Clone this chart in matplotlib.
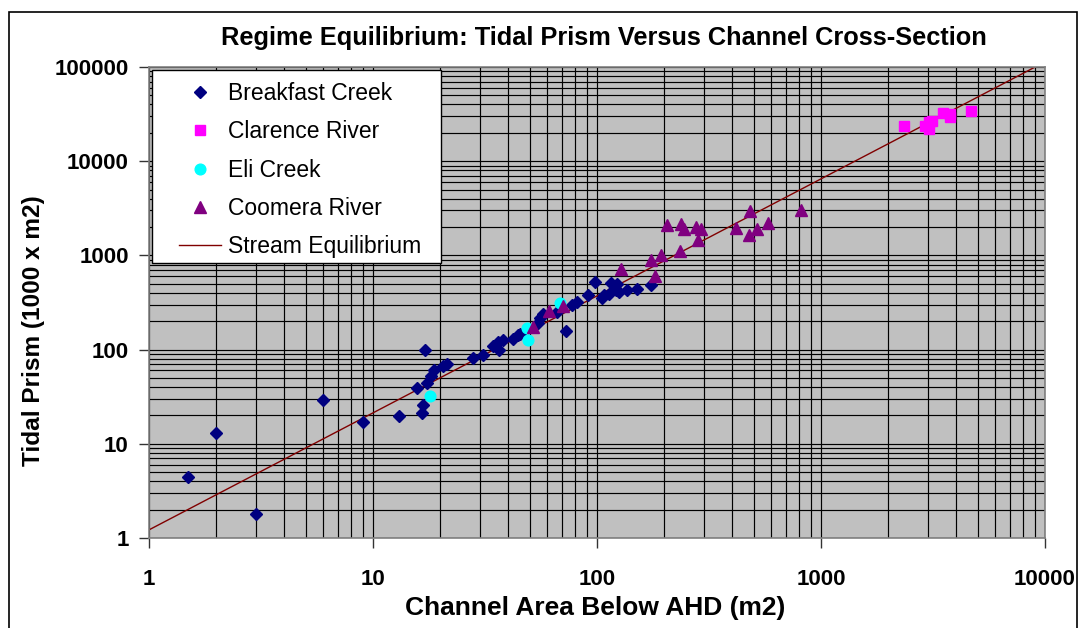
import matplotlib
matplotlib.use('Agg')
import matplotlib.pyplot as plt
from matplotlib.patches import Rectangle
from matplotlib.ticker import LogLocator, FixedLocator, NullFormatter
import numpy as np

plt.rcParams['font.family'] = ['Liberation Sans', 'DejaVu Sans']

#%% Data (channel area m2, tidal prism 1000 x m2)

breakfast_area = [1.5, 2, 3, 6, 9, 13, 16.5, 16.7, 15.8, 17, 17.5, 18.1, 18.7, 20.5, 21.4,
                  28, 31, 34.4, 36.5, 36.2, 38.2, 42.3, 44.5, 45.3, 54.7, 55.7, 57.6, 66,
                  72.6, 77, 81, 91, 98, 105, 108, 113, 115, 121, 123, 125, 136, 151, 175]
breakfast_prism = [4.4, 13, 1.8, 29, 17, 19.5, 21, 26, 39, 100, 44, 52, 61, 67, 71,
                   82, 88, 110, 99, 121, 126, 129, 143, 148, 190, 214, 241, 251,
                   157, 296, 321, 384, 525, 349, 378, 394, 515, 430, 503, 410, 427, 437, 482]

clarence_area = [2340, 2920, 3020, 3020, 3120, 3500, 3750, 3750, 4690]
clarence_prism = [23550, 23900, 22030, 25960, 27000, 32300, 31800, 29300, 34400]

eli_area = [18, 49, 48.5, 68.4]
eli_prism = [32, 126, 171, 314]

coomera_area = [52, 61, 70.4, 128, 175, 181, 194, 206, 234, 238, 244, 276, 281, 291,
                417, 482, 479, 517, 577, 818]
coomera_prism = [175, 256, 292, 710, 887, 600, 1000, 2085, 1120, 2170, 1890, 2000, 1445, 1890,
                 1955, 2940, 1630, 1890, 2190, 3010]

# Stream equilibrium line P = c * A^n
eq_coef = 1.22
eq_exp = 1.242
eq_area = np.array([1.0, 10000.0])

#%%

W, H = 1080, 628
fig = plt.figure(figsize=(W / 100, H / 100), dpi=100)
fig.patch.set_facecolor('white')

# plot area in pixels: x 149..1045, y 67..538
ax = fig.add_axes([149 / W, 1 - 538 / H, 896 / W, 471 / H])
ax.set_facecolor('#C0C0C0')
ax.set_xscale('log')
ax.set_yscale('log')
ax.set_xlim(1, 10000)
ax.set_ylim(1, 100000)

ax.xaxis.set_minor_locator(LogLocator(base=10, subs=np.arange(2, 10), numticks=20))
ax.yaxis.set_minor_locator(LogLocator(base=10, subs=np.arange(2, 10), numticks=20))
ax.xaxis.set_minor_formatter(NullFormatter())
ax.yaxis.set_minor_formatter(NullFormatter())
ax.xaxis.set_major_locator(FixedLocator([1, 10, 100, 1000, 10000]))
ax.yaxis.set_major_locator(FixedLocator([1, 10, 100, 1000, 10000, 100000]))
ax.set_xticklabels(['1', '10', '100', '1000', '10000'])
ax.set_yticklabels(['1', '10', '100', '1000', '10000', '100000'])

ax.grid(which='both', color='black', lw=0.85)
ax.set_axisbelow(True)
ax.tick_params(which='major', direction='out', length=7, width=1, color='#333333')
ax.tick_params(which='minor', length=0)
ax.tick_params(axis='y', labelsize=16, pad=7.5)
ax.tick_params(axis='x', labelsize=16, pad=15)
for lab in ax.get_xticklabels() + ax.get_yticklabels():
    lab.set_fontweight('bold')
for sp in ax.spines.values():
    sp.set_color('#808080')
    sp.set_linewidth(1.2)

ax.plot(eq_area, eq_coef * eq_area ** eq_exp, color='#800000', lw=1, zorder=2,
        label='Stream Equilibrium')
ax.plot(breakfast_area, breakfast_prism, 'D', color='#000080', ms=6, mec='#000080',
        ls='none', zorder=3, label='Breakfast Creek')
ax.plot(clarence_area, clarence_prism, 's', color='#FF00FF', ms=7.5, mec='#FF00FF',
        ls='none', zorder=3, label='Clarence River')
ax.plot(eli_area, eli_prism, 'o', color='#00FFFF', ms=7.7, mec='#00FFFF',
        ls='none', zorder=3, label='Eli Creek')
ax.plot(coomera_area, coomera_prism, '^', color='#800080', ms=8.5, mec='#800080',
        ls='none', zorder=4, label='Coomera River')

# legend box drawn separately (Excel pads more on the sides than top/bottom)
ax.add_patch(Rectangle((3 / 896, (538 - 263) / 471), 289 / 896, 193 / 471,
                       transform=ax.transAxes, facecolor='white', edgecolor='black',
                       lw=1, zorder=9, clip_on=False))
handles, labels = ax.get_legend_handles_labels()
order = [1, 2, 3, 4, 0]
leg = ax.legend([handles[i] for i in order], [labels[i] for i in order],
                loc='upper left', bbox_to_anchor=(30 / 896, (538 - 82) / 471),
                fontsize=16.5, frameon=False, borderpad=0, labelspacing=0.67,
                handlelength=1.83, handletextpad=0.31, borderaxespad=0)
leg.set_zorder(10)

fig.text(604 / W, 1 - 45 / H, 'Regime Equilibrium: Tidal Prism Versus Channel Cross-Section',
         ha='center', va='baseline', fontsize=18.3, fontweight='bold')
fig.text(595 / W, 1 - 615 / H, 'Channel Area Below AHD (m2)', ha='center', va='baseline',
         fontsize=19, fontweight='bold')
fig.text(34 / W, 1 - 331 / H, 'Tidal Prism (1000 x m2)', ha='center', va='center',
         rotation=90, fontsize=17.6, fontweight='bold')

# outer chart frame
fig.patches.append(Rectangle((9 / W, -0.05), (1077 - 9) / W, 1.05 - 12 / H,
                             transform=fig.transFigure, fill=False, ec='black', lw=1.2,
                             zorder=20))

fig.savefig('out.png', dpi=100)
